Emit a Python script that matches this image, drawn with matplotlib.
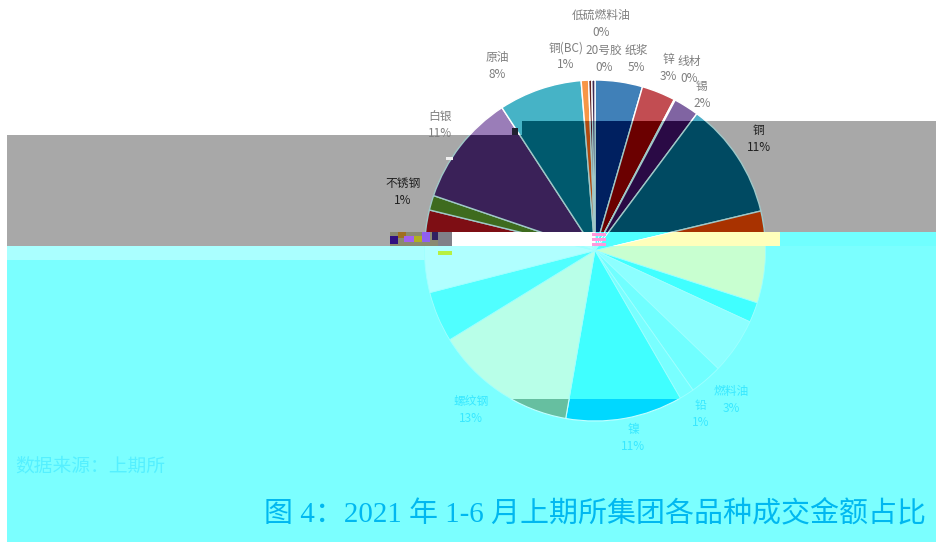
import matplotlib
matplotlib.use('Agg')
import matplotlib.pyplot as plt
from matplotlib.patches import Rectangle

W = 937
H = 542

# clockwise from 12 o'clock
shares = [4.5, 3.2, 0.1, 2.4, 11.1, 8.7, 1.9, 5.3, 3.1, 1.4, 11.1, 13.5, 4.8, 7.8, 1.4, 10.6, 7.9, 0.7, 0.3, 0.3]

# the picture is damaged, so each band has its own set of slice colours
colors_top = ['#4080B8', '#C24D52', '#9BBB59', '#8064A2', '#4BACC6', '#F79646', '#2C4D75', '#772C2A', '#5F497A', '#276A7C',
              '#B65708', '#729ACA', '#CD7371', '#AF2A28', '#71893F', '#9A7DB8', '#46B3C6', '#F79646', '#632523', '#3B2A55']
colors_dark = ['#002060', '#6B0000', '#5A7020', '#2A0A45', '#004A62', '#A83200', '#40FFFF', '#8CFFFF', '#70FFFF', '#78FFFF',
               '#40FFFF', '#B8FFE8', '#50FFFF', '#7E0E14', '#3E6B1E', '#3A2158', '#005A6E', '#B04A10', '#400010', '#201040']
colors_strip = ['#60FFFF', '#40FFFF', '#FFFFFF', '#60FFFF', '#50FFFF', '#FFFFBB', '#40FFFF', '#8CFFFF', '#70FFFF', '#78FFFF',
                '#40FFFF', '#B8FFE8', '#50FFFF', '#FFFFFF', '#FFFFFF', '#FFFFFF', '#FFFFFF', '#FFFFFF', '#FFFFFF', '#FFFFFF']
colors_cyan = ['#60FFFF', '#40FFFF', '#FFFFFF', '#60FFFF', '#50FFFF', '#C8FFD0', '#40FFFF', '#8CFFFF', '#70FFFF', '#78FFFF',
               '#40FFFF', '#B8FFE8', '#50FFFF', '#B0FFFF', '#B0FFFF', '#B0FFFF', '#B0FFFF', '#B0FFFF', '#B0FFFF', '#B0FFFF']
colors_low = ['#60FFFF', '#40FFFF', '#FFFFFF', '#60FFFF', '#50FFFF', '#C8FFD0', '#40FFFF', '#8CFFFF', '#70FFFF', '#78FFFF',
              '#00D8FF', '#66BFA0', '#50FFFF', '#B0FFFF', '#B0FFFF', '#B0FFFF', '#B0FFFF', '#B0FFFF', '#B0FFFF', '#B0FFFF']

label_names = ['低硫燃料油', '铜(BC)', '20号胶', '纸浆', '锌', '线材', '锡', '原油', '白银', '铜', '不锈钢', '燃料油', '铅', '镍', '螺纹钢']
label_pcts = ['0%', '1%', '0%', '5%', '3%', '0%', '2%', '8%', '11%', '11%', '1%', '3%', '1%', '11%', '13%']
label_x = [601, 566, 604, 636, 668, 689, 702, 497, 440, 759, 403, 731, 701, 633, 471]
label_y = [24, 56, 59, 59, 68, 70, 95, 66, 125, 139, 192, 400, 414, 438, 410]
label_colors = ['#7F7F7F'] * 9 + ['#202020', '#202020'] + ['#38E8FF'] * 4

source_text = '数据来源：上期所'
title_text = '图 4：2021 年 1-6 月上期所集团各品种成交金额占比'

# bits of broken blocks around the damaged strip: x, y, w, h, colour
noise_blocks = [(390, 232, 62, 14, '#8A8A70'), (390, 236, 8, 8, '#301080'), (398, 232, 8, 6, '#A07020'),
                (404, 236, 10, 6, '#A060F0'), (414, 236, 8, 6, '#B0B020'), (422, 232, 8, 10, '#9060F0'),
                (432, 232, 6, 8, '#302060'), (438, 232, 14, 14, '#808088'), (438, 251, 14, 4, '#B8F040'),
                (592, 233, 14, 3, '#FF99DD'), (592, 238, 14, 3, '#FF99DD'), (592, 243, 14, 3, '#FF99DD'),
                (512, 128, 6, 7, '#202030'), (446, 157, 7, 3, '#F0F0F0')]

plt.rcParams['font.family'] = ['Noto Sans CJK SC', 'DejaVu Sans']

fig = plt.figure(figsize=(W / 100, H / 100), dpi=100)
ax = fig.add_axes([0, 0, 1, 1])


def box(x0, y0, x1, y1, color, z=1):
    ax.add_patch(Rectangle((x0, H - y1), x1 - x0, y1 - y0, facecolor=color, edgecolor='none', zorder=z))


def draw_pie(colors, edge, x0, y0, x1, y1, lw=1):
    wedges, _ = ax.pie(shares, colors=colors, startangle=90, counterclock=False, center=(595, H - 250.5), radius=170.5,
                       frame=True, wedgeprops={'edgecolor': edge, 'linewidth': lw})
    clip = Rectangle((x0, H - y1), x1 - x0, y1 - y0, transform=ax.transData)
    for w in wedges:
        w.set_zorder(2)
        # pie turns clipping off for its wedges
        w.set_clip_on(True)
        w.set_clip_path(clip)


# backgrounds
box(7, 135, W, 246, '#A8A8A8')
box(522, 121, W, 135, '#A8A8A8')
box(780, 232, W, 246, '#70FFFF')
box(452, 232, 780, 246, '#FFFFFF')
box(760, 232, 780, 246, '#FFFFBB', z=3)
box(7, 246, W, H, '#7BFFFF')
box(7, 246, 425, 260, '#AAFFFF')

# pie, one band at a time
draw_pie(colors_top, '#FFFFFF', 0, 0, W, 121)
draw_pie(colors_top, '#FFFFFF', 0, 121, 522, 135)
draw_pie(colors_dark, '#A0C8C8', 522, 121, W, 135)
draw_pie(colors_dark, '#A0C8C8', 0, 135, W, 232)
draw_pie(colors_strip, '#FFFFFF', 452, 232, 780, 246, lw=0.5)
draw_pie(colors_cyan, '#A0FFFF', 0, 246, W, 399, lw=0.6)
draw_pie(colors_low, '#C0FFFF', 0, 399, W, H, lw=0.8)

for x, y, w, h, c in noise_blocks:
    box(x, y, x + w, y + h, c, z=4)

for name, pct, x, y, c in zip(label_names, label_pcts, label_x, label_y, label_colors):
    ax.text(x, H - y, name + '\n' + pct, color=c, fontsize=8.5, ha='center', va='center', linespacing=1.35, zorder=5)

ax.text(15, H - 466, source_text, color='#55F0FF', fontsize=13.5, ha='left', va='center', zorder=5)
ax.text(926, H - 515, title_text, color='#00B8F0', fontsize=20.9, ha='right', va='center', zorder=5,
        family=['Liberation Serif', 'Noto Sans CJK SC'])

ax.set_xlim(0, W)
ax.set_ylim(0, H)
ax.set_aspect('auto')
ax.axis('off')

fig.savefig('out.png', dpi=100, facecolor='white')
